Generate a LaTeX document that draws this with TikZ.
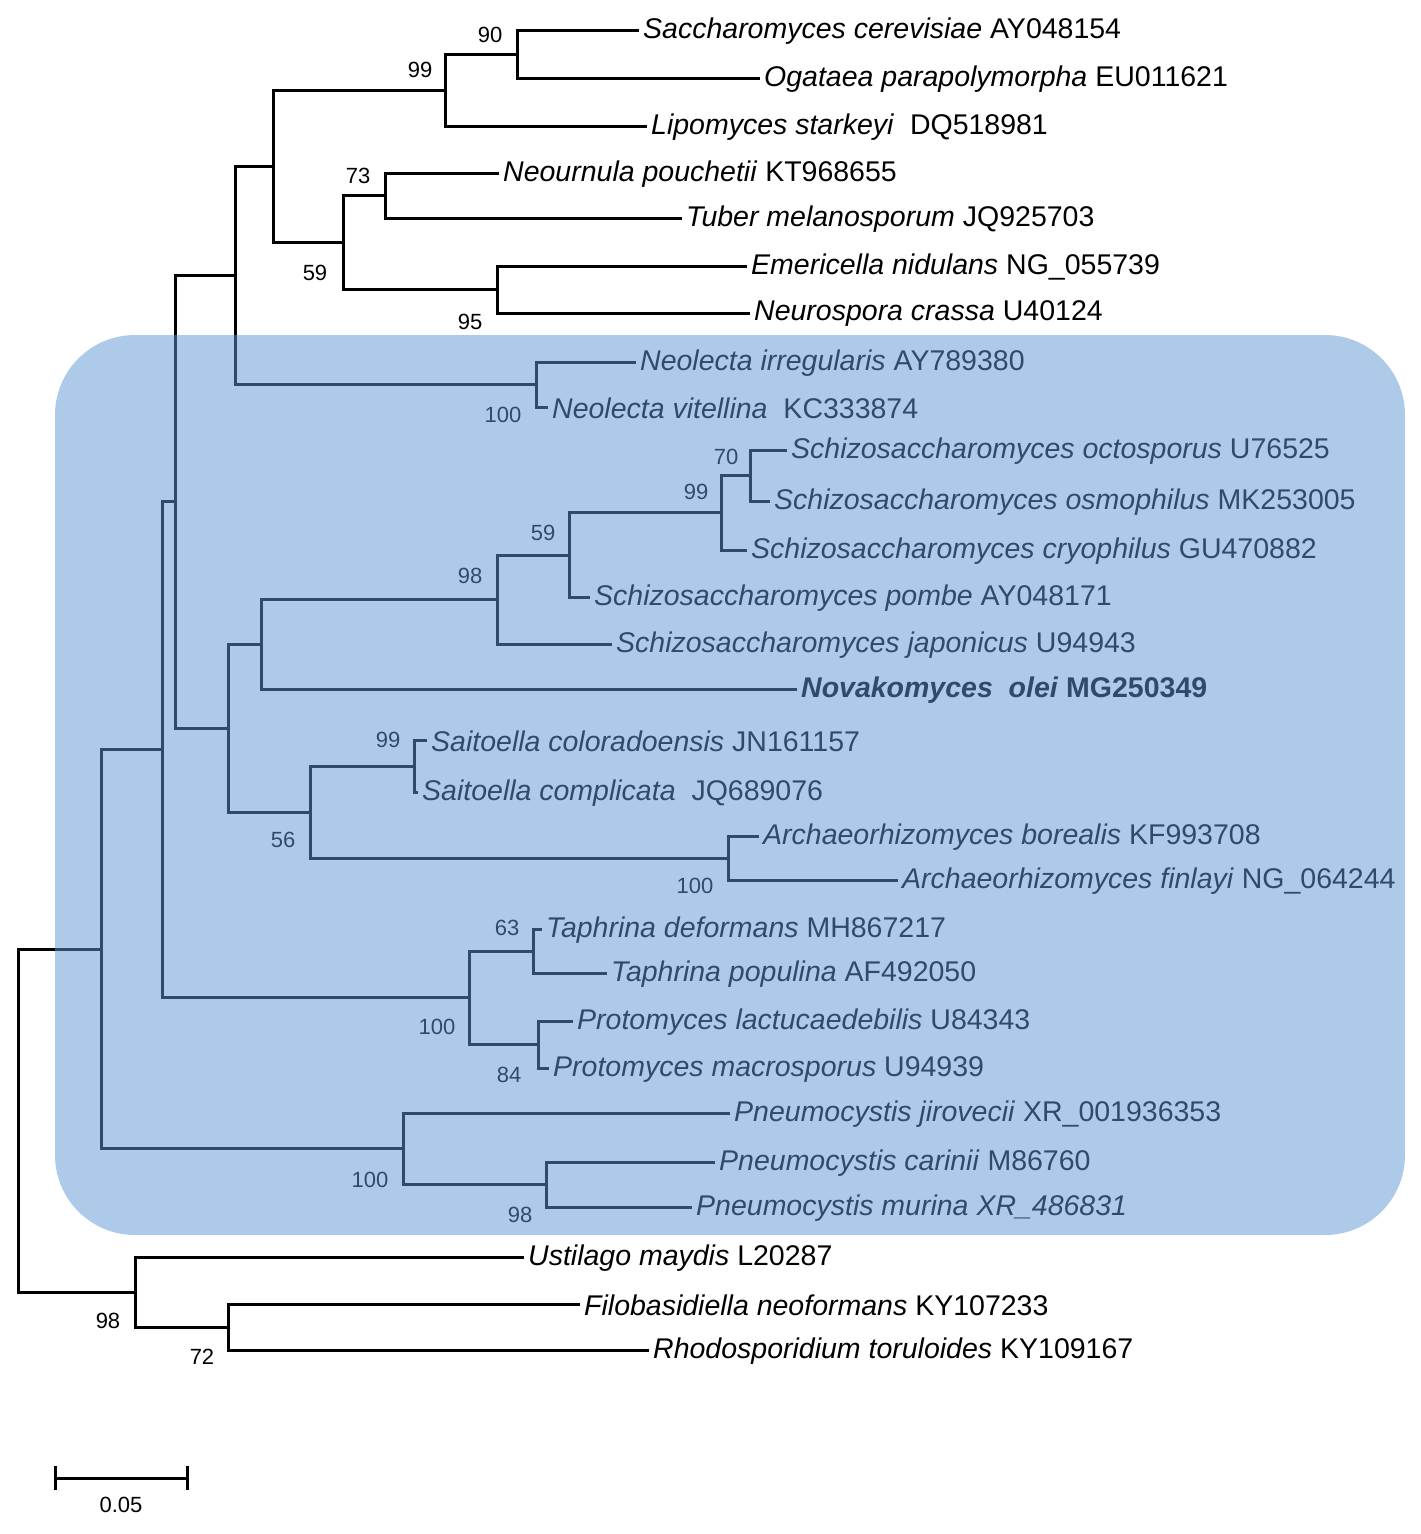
\documentclass[tikz,border=0pt]{standalone}
\usepackage{fontspec}
\setmainfont{Liberation Sans}
\begin{document}
\begin{tikzpicture}[x=1pt,y=-1pt,
  br/.style={line width=3pt,line cap=rect},
  leaf/.style={anchor=west,inner sep=0pt,xshift=6pt,yshift=-1pt,font=\fontsize{28.5}{30}\selectfont},
  bs/.style={inner sep=0pt,font=\fontsize{22}{24}\selectfont}]
\useasboundingbox (0,0) rectangle (1421,1534);
% leaves
\foreach \n/\x/\y in {1/637/30,2/758/78,3/645/126,4/497/173,5/680/218,6/745/266,7/748/313,8/634/362,9/546/407,10/785/450,11/768/501,12/745/550,13/588/597,14/610/644,15/795/689,16/425/740,17/416/792,18/757/836,19/896/880,20/540/929,21/605/973,22/571/1021,23/547/1068,24/728/1113,25/713/1162,26/690/1207,27/522/1257,28/578/1304,29/647/1350}
  \coordinate (t\n) at (\x,\y);
\node[leaf] at (t1) {\textit{Saccharomyces cerevisiae} AY048154};
\node[leaf] at (t2) {\textit{Ogataea parapolymorpha} EU011621};
\node[leaf] at (t3) {\textit{Lipomyces starkeyi}\ \ DQ518981};
\node[leaf] at (t4) {\textit{Neournula pouchetii} KT968655};
\node[leaf] at (t5) {\textit{Tuber melanosporum} JQ925703};
\node[leaf] at (t6) {\textit{Emericella nidulans} NG\_055739};
\node[leaf] at (t7) {\textit{Neurospora crassa} U40124};
\node[leaf] at (t8) {\textit{Neolecta irregularis} AY789380};
\node[leaf] at (t9) {\textit{Neolecta vitellina}\ \ KC333874};
\node[leaf] at (t10) {\textit{Schizosaccharomyces octosporus} U76525};
\node[leaf] at (t11) {\textit{Schizosaccharomyces osmophilus} MK253005};
\node[leaf] at (t12) {\textit{Schizosaccharomyces cryophilus} GU470882};
\node[leaf] at (t13) {\textit{Schizosaccharomyces pombe} AY048171};
\node[leaf] at (t14) {\textit{Schizosaccharomyces japonicus} U94943};
\node[leaf] at (t15) {\textbf{\textit{Novakomyces\ \ olei} MG250349}};
\node[leaf] at (t16) {\textit{Saitoella coloradoensis} JN161157};
\node[leaf] at (t17) {\textit{Saitoella complicata}\ \ JQ689076};
\node[leaf] at (t18) {\textit{Archaeorhizomyces borealis} KF993708};
\node[leaf] at (t19) {\textit{Archaeorhizomyces finlayi} NG\_064244};
\node[leaf] at (t20) {\textit{Taphrina deformans} MH867217};
\node[leaf] at (t21) {\textit{Taphrina populina} AF492050};
\node[leaf] at (t22) {\textit{Protomyces lactucaedebilis} U84343};
\node[leaf] at (t23) {\textit{Protomyces macrosporus} U94939};
\node[leaf] at (t24) {\textit{Pneumocystis jirovecii} XR\_001936353};
\node[leaf] at (t25) {\textit{Pneumocystis carinii} M86760};
\node[leaf] at (t26) {\textit{Pneumocystis murina XR\_486831}};
\node[leaf] at (t27) {\textit{Ustilago maydis} L20287};
\node[leaf] at (t28) {\textit{Filobasidiella neoformans} KY107233};
\node[leaf] at (t29) {\textit{Rhodosporidium toruloides} KY109167};
% internal nodes
\foreach \n/\x/\y in {A/517/54,B/445/90,C/385/195.5,D/497/289.5,E/343/242.5,F/273/166,G/536/384.5,H/235/275,I/750/475.5,J/721/512.75,K/569/555,L/497/599.5,M/261/644.25,N/414/766,O/728/858,P/310/812,Q/228/728,R/175/501.5,S/533/951,T/538/1044.5,U/469/997.75,V/162/749.6,W/546/1184.5,X/403/1148.75,Y/101/949,Z/228/1327,AA/135/1292,root/18/1120.5}
  \coordinate (\n) at (\x,\y);
\foreach \p/\c in {A/t1,A/t2,B/A,B/t3,C/t4,C/t5,D/t6,D/t7,E/C,E/D,F/B,F/E,G/t8,G/t9,H/F,H/G,I/t10,I/t11,J/I,J/t12,K/J,K/t13,L/K,L/t14,M/L,M/t15,N/t16,N/t17,O/t18,O/t19,P/N,P/O,Q/M,Q/P,R/H,R/Q,S/t20,S/t21,T/t22,T/t23,U/S,U/T,V/R,V/U,W/t25,W/t26,X/t24,X/W,Y/V,Y/X,Z/t28,Z/t29,AA/t27,AA/Z,root/Y,root/AA}
  \draw[br] (\p) |- (\c);
% bootstrap
\foreach \t/\x/\y in {90/490/35,99/420/70,73/358/176,95/470/322,59/315/273,100/503/415,70/726/457,99/696/492,59/543/533,98/470/576,99/388/740,100/695/886,56/283/840,63/507/928,84/509/1075,100/437/1027,98/520/1215,100/370/1180,72/202/1357,98/108/1321}
  \node[bs] at (\x,\y) {\t};
% highlight box
\fill[fill={rgb,255:red,92;green,150;blue,212},opacity=0.5,rounded corners=80pt] (55,335) rectangle (1405,1235);
% scale bar
\coordinate (s1) at (55,1478); \coordinate (s2) at (187,1478);
\draw[line width=3pt] (s1) -- (s2);
\draw[line width=3pt] (55,1466) -- (55,1490) (187,1466) -- (187,1490);
\node[bs] at (121,1505) {0.05};
\end{tikzpicture}
\end{document}
